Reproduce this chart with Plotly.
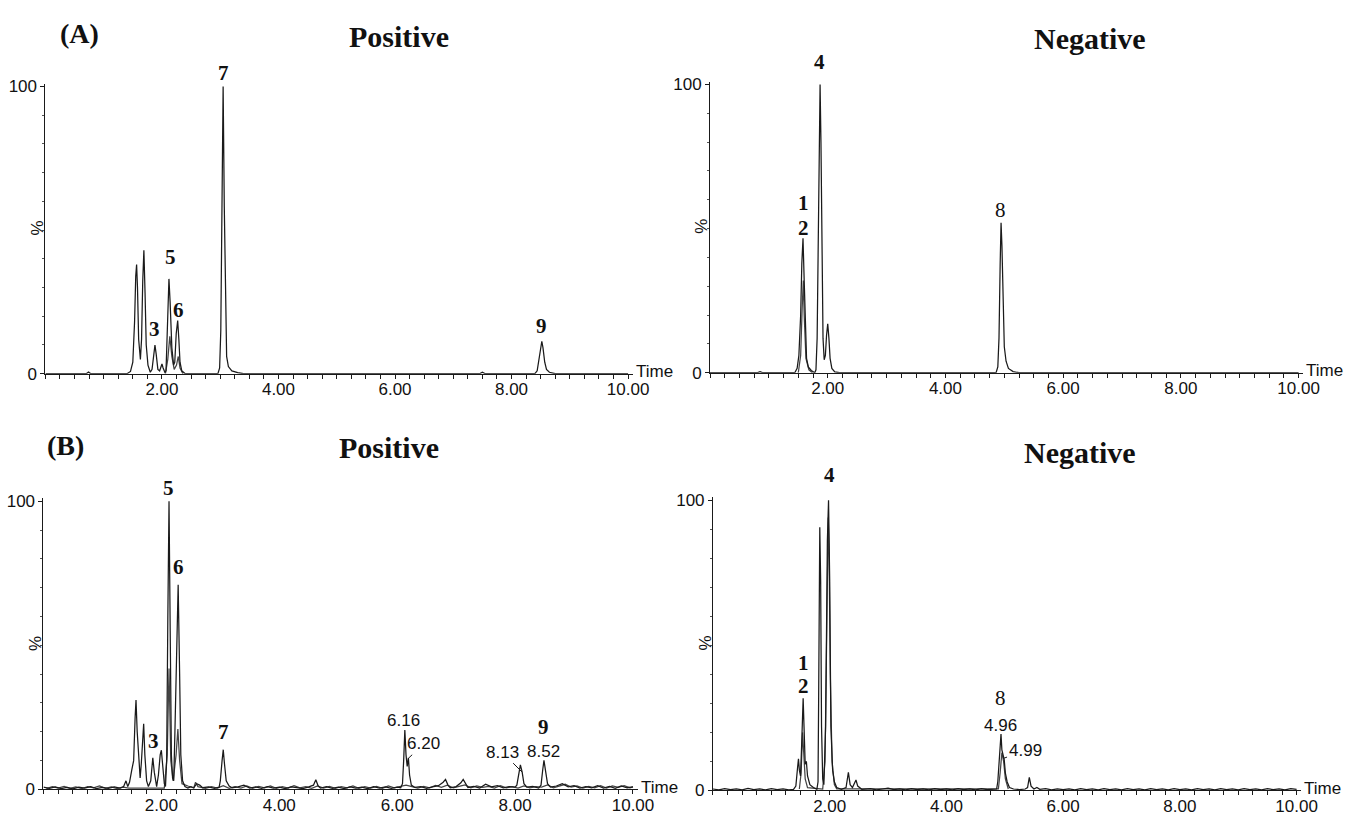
import plotly.graph_objects as go

W, H = 1361, 823

# ---------------- data (time in min, relative intensity in %) ----------------
A_POS_MAIN = [(0.00,0),(0.70,0),(0.74,0.6),(0.78,0),(1.40,0),(1.46,0.8),(1.50,4),(1.53,18),(1.55,34),(1.565,38),
              (1.58,30),(1.60,12),(1.63,5),(1.65,12),(1.67,32),(1.69,43),(1.71,28),(1.73,10),(1.76,3),(1.80,0.5),
              (1.83,1.5),(1.86,7),(1.88,10),(1.90,7),(1.93,1.5),(1.96,1),(1.985,3),(2.00,3.4),(2.02,2),(2.05,0.5),
              (2.07,1),(2.09,12),(2.11,28),(2.12,33),(2.14,25),(2.17,9),(2.20,3),(2.22,4),(2.245,14),(2.27,18.5),
              (2.29,12),(2.31,4),(2.34,1),(2.40,0),(2.96,0),(2.99,2),(3.01,15),(3.03,55),(3.05,100),(3.07,58),
              (3.09,20),(3.11,6),(3.14,2.5),(3.20,1),(3.30,0.4),(3.40,0),(7.45,0),(7.50,0.5),(7.55,0),(8.40,0),
              (8.44,1),(8.47,5),(8.50,10),(8.52,11.3),(8.54,9),(8.57,4),(8.60,1.5),(8.65,0.5),(8.75,0),(10.0,0)]
A_POS_INNER = [(2.06,0),(2.10,5),(2.135,13),(2.17,6),(2.21,1.5),(2.25,3),(2.28,6),(2.31,2),(2.36,0)]

A_NEG_MAIN = [(0.00,0),(0.80,0),(0.85,0.4),(0.90,0),(1.44,0),(1.48,1.5),(1.51,6),(1.54,20),(1.56,38),(1.58,46.6),
              (1.60,32),(1.62,13),(1.64,5),(1.67,2),(1.72,0.8),(1.78,0),(1.80,1),(1.82,12),(1.84,50),(1.86,92),
              (1.87,100),(1.885,80),(1.90,40),(1.92,12),(1.94,4.5),(1.96,6),(1.98,13),(2.00,17),(2.02,12),(2.04,5),
              (2.07,1.5),(2.12,0.3),(2.20,0),(4.86,0),(4.89,2),(4.91,12),(4.93,38),(4.945,52),(4.96,44),(4.98,22),
              (5.00,9),(5.03,4),(5.07,1.5),(5.15,0.4),(5.25,0),(10.0,0)]
A_NEG_INNER = [(1.50,0),(1.54,6),(1.565,22),(1.585,32),(1.60,20),(1.63,5),(1.68,1),(1.74,0)]

B_POS_MAIN = [(0.0,0.8),(0.1,0.4),(0.2,0.9),(0.3,0.3),(0.4,0.7),(0.5,0.2),(0.6,0.8),(0.7,0.5),(0.8,1.0),(0.9,0.3),
              (1.0,0.7),(1.1,0.4),(1.2,0.9),(1.3,0.5),(1.36,1.0),(1.40,3.0),(1.43,1.0),(1.46,2.5),(1.50,7.0),(1.53,10),
              (1.555,25),(1.57,31),(1.59,20),(1.62,8),(1.64,4),(1.66,9),(1.68,18),(1.70,22.8),(1.72,12),(1.75,3),
              (1.78,1),(1.82,3),(1.855,11),(1.88,6),(1.92,1),(1.95,5),(1.98,12),(2.00,13.6),(2.02,9),(2.05,2),
              (2.07,1),(2.09,10),(2.11,60),(2.13,100),(2.15,55),(2.17,12),(2.19,4),(2.21,3),(2.23,20),(2.26,55),
              (2.285,71),(2.31,40),(2.33,12),(2.36,3),(2.40,1),(2.45,0.5),(2.50,1.0),(2.55,0.6),(2.60,2.0),(2.65,1.5),
              (2.70,0.6),(2.80,0.9),(2.90,0.4),(2.98,0.8),(3.00,3),(3.03,10),(3.05,13.8),(3.07,9),(3.10,3),(3.15,1.2),
              (3.20,0.6),(3.30,0.9),(3.40,1.5),(3.50,0.5),(3.60,0.9),(3.70,0.4),(3.80,1.0),(3.90,0.5),(4.00,0.8),(4.10,0.3),
              (4.20,0.9),(4.30,0.6),(4.40,0.3),(4.50,0.9),(4.58,1.5),(4.62,3.4),(4.66,1.2),(4.70,0.5),(4.80,1.0),(4.90,0.4),
              (5.00,0.8),(5.10,0.3),(5.20,0.9),(5.30,0.5),(5.40,0.8),(5.50,0.3),(5.60,1.0),(5.70,0.5),(5.80,0.9),(5.90,0.4),
              (6.00,0.8),(6.06,0.6),(6.09,2),(6.11,10),(6.13,20.6),(6.15,12),(6.17,8),(6.19,11),(6.21,5),(6.24,1.5),
              (6.30,0.7),(6.40,1.0),(6.50,0.4),(6.60,0.9),(6.70,1.3),(6.78,2.5),(6.82,3.5),(6.86,1.6),(6.90,0.6),(7.00,1.0),
              (7.08,2.3),(7.12,3.5),(7.16,2.0),(7.20,0.7),(7.30,1.1),(7.40,0.5),(7.50,1.8),(7.60,0.9),(7.70,1.3),(7.80,0.6),
              (7.90,1.0),(8.00,0.8),(8.03,1.5),(8.06,5),(8.09,8.5),(8.12,6),(8.15,2),(8.20,0.8),(8.30,1.1),(8.40,0.5),
              (8.44,1.5),(8.47,7),(8.49,10.1),(8.52,6),(8.55,2),(8.60,0.8),(8.70,1.2),(8.80,2.0),(8.90,0.9),(9.00,1.3),
              (9.10,0.5),(9.20,1.0),(9.30,0.6),(9.40,1.3),(9.50,0.5),(9.60,1.1),(9.70,0.4),(9.80,1.2),(9.90,0.6),(10.0,0.9)]
B_POS_INNER = [(0.05,0.3),(0.15,1.0),(0.25,0.5),(0.35,1.1),(0.45,0.4),(0.55,0.9),(0.65,0.3),(0.75,1.0),(0.85,0.6),
               (0.95,1.2),(1.05,0.4),(1.15,0.9),(1.25,0.3),(1.35,0.8),(1.45,0.5),(1.60,0.5),(1.80,0.4),(2.05,0.5),
               (2.10,12),(2.13,42),(2.16,10),(2.20,3),(2.25,12),(2.28,21),(2.31,10),(2.35,2),(2.45,1.2),(2.55,0.5),
               (2.58,2.5),(2.62,1.0),(2.75,0.4),(2.85,1.0),(2.95,0.5),(3.05,1.3),(3.15,0.4),(3.25,1.0),(3.35,0.5),
               (3.45,1.2),(3.55,0.4),(3.65,1.1),(3.75,0.6),(3.85,1.2),(3.95,0.4),(4.05,1.0),(4.15,0.5),(4.25,1.3),
               (4.35,0.6),(4.45,1.0),(4.55,0.4),(4.65,1.2),(4.75,0.5),(4.85,1.1),(4.95,0.4),(5.05,1.0),(5.15,0.6),
               (5.25,1.2),(5.35,0.4),(5.45,1.0),(5.55,0.5),(5.65,1.1),(5.75,0.4),(5.85,1.2),(5.95,0.6),(6.05,1.0),
               (6.15,1.5),(6.25,1.0),(6.35,0.5),(6.45,1.1),(6.55,0.6),(6.65,1.4),(6.75,0.7),(6.85,1.5),(6.95,0.6),
               (7.05,1.1),(7.15,1.6),(7.25,0.6),(7.35,1.2),(7.45,0.7),(7.55,1.1),(7.65,0.5),(7.75,1.3),(7.85,0.6),
               (7.95,1.0),(8.05,0.5),(8.15,1.2),(8.25,0.6),(8.35,1.0),(8.45,0.8),(8.55,1.6),(8.65,0.6),(8.75,1.2),
               (8.85,1.8),(8.95,0.8),(9.05,1.2),(9.15,0.5),(9.25,1.1),(9.35,0.6),(9.45,1.3),(9.55,0.5),(9.65,1.2),
               (9.75,0.7),(9.85,1.3),(9.95,0.6),(10.0,0.9)]

B_NEG_MAIN = [(0.0,0.5),(0.1,0.2),(0.2,0.6),(0.3,0.3),(0.4,0.5),(0.5,0.2),(0.6,0.7),(0.7,0.3),(0.8,0.5),(0.9,0.2),
              (1.0,0.6),(1.1,0.3),(1.2,0.5),(1.3,0.2),(1.38,0.4),(1.42,1.5),(1.45,8),(1.465,10.9),(1.48,7),(1.50,5),
              (1.52,16),(1.545,31.8),(1.56,22),(1.58,9),(1.60,10),(1.62,5),(1.66,2),(1.72,1),(1.78,0.4),(1.80,3),
              (1.81,30),(1.82,72),(1.83,90.7),(1.845,72),(1.86,22),(1.88,4),(1.90,2),(1.93,22),(1.96,86),(1.98,100),
              (2.00,72),(2.02,22),(2.05,7),(2.08,3),(2.12,1),(2.20,0.4),(2.28,1),(2.32,6.2),(2.35,2),(2.39,1),
              (2.42,2.5),(2.45,3.6),(2.48,1.5),(2.55,0.4),(2.70,0.6),(2.80,0.2),(2.90,0.5),(3.00,0.8),(3.10,0.3),(3.20,0.5),
              (3.30,0.2),(3.40,0.6),(3.50,0.3),(3.60,0.5),(3.70,0.2),(3.80,0.6),(3.90,0.3),(4.00,0.5),(4.10,0.2),(4.20,0.6),
              (4.30,0.3),(4.40,0.5),(4.50,0.2),(4.60,0.6),(4.70,0.3),(4.80,0.5),(4.86,0.5),(4.88,3),(4.90,10),(4.92,17),
              (4.935,19.4),(4.95,14),(4.97,12),(4.99,10.6),(5.01,6),(5.04,3),(5.08,1),(5.15,0.5),(5.25,0.3),(5.35,0.5),
              (5.39,1),(5.42,4.5),(5.45,1.5),(5.50,0.5),(5.55,1.0),(5.60,0.4),(5.70,0.6),(5.80,0.2),(5.90,0.5),(6.00,0.3),
              (6.10,0.5),(6.20,0.2),(6.30,0.6),(6.40,0.3),(6.50,0.5),(6.60,0.2),(6.70,0.6),(6.80,0.3),(6.90,0.5),(7.00,0.2),
              (7.10,0.6),(7.20,0.3),(7.30,0.5),(7.40,0.2),(7.50,0.6),(7.60,0.3),(7.70,0.5),(7.80,0.2),(7.90,0.6),(8.00,0.3),
              (8.10,0.5),(8.20,0.2),(8.30,0.6),(8.40,0.3),(8.50,0.5),(8.60,0.2),(8.70,0.6),(8.80,0.3),(8.90,0.5),(9.00,0.2),
              (9.10,0.6),(9.20,0.3),(9.30,0.5),(9.40,0.2),(9.50,0.6),(9.60,0.3),(9.70,0.5),(9.80,0.2),(9.90,0.6),(10.0,0.4)]
B_NEG_INNER = [(1.48,0.5),(1.51,6),(1.535,20),(1.55,14),(1.58,4),(1.62,1),(1.88,0.5),(1.92,10),(1.95,60),(1.975,94),
               (1.99,80),(2.01,40),(2.04,10),(2.08,2),(2.12,0.5),(4.89,0.5),(4.92,6),(4.95,13),(4.98,10),(5.01,4),(5.06,0.5)]

X_TICKS = [2, 4, 6, 8, 10]
X_TICK_TEXT = ["2.00", "4.00", "6.00", "8.00", "10.00"]
Y_TICKS = [0, 100]
Y_TICK_TEXT = ["0", "100"]

# peak labels: (text, time, intensity, bold)
A_POS_LABELS = [("7", 3.05, 104.8, True), ("5", 2.15, 40.6, True), ("3", 1.88, 15.4, True),
                ("6", 2.28, 22.2, True), ("9", 8.52, 16.5, True)]
A_NEG_LABELS = [("1", 1.58, 58.8, True), ("2", 1.58, 50.3, True), ("4", 1.86, 107.8, True), ("8", 4.94, 56.6, False)]
B_POS_LABELS = [("5", 2.12, 104.5, True), ("6", 2.29, 77.3, True), ("3", 1.86, 16.9, True),
                ("7", 3.05, 20.0, True), ("9", 8.49, 21.8, True)]
B_NEG_LABELS = [("1", 1.55, 44.0, True), ("2", 1.55, 36.0, True), ("4", 1.99, 108.7, True), ("8", 4.93, 32.0, False)]
# retention-time labels: (text, time, intensity, leader dx, leader dy)  dx/dy None -> no leader
B_POS_RT = [("6.16", 6.10, 24.0, None, None), ("6.20", 6.20, 11.0, 15, -14),
            ("8.13", 8.12, 6.0, -20, -20), ("8.52", 8.49, 13.3, None, None)]
B_NEG_RT = [("4.96", 4.93, 22.5, None, None), ("4.99", 4.97, 11.0, 22, -8)]

# ---------------- layout geometry (pixels) ----------------
XMAX = 10.08
panels = [
    dict(x0=46, ppu=59.0, y0=375, y100=82, main=A_POS_MAIN, inner=A_POS_INNER,
         labels=A_POS_LABELS, rts=[], title="Positive", tpos=(404, 31)),
    dict(x0=719, ppu=59.6, y0=374, y100=80, main=A_NEG_MAIN, inner=A_NEG_INNER,
         labels=A_NEG_LABELS, rts=[], title="Negative", tpos=(1104, 33)),
    dict(x0=44, ppu=59.7, y0=799, y100=505, main=B_POS_MAIN, inner=B_POS_INNER,
         labels=B_POS_LABELS, rts=B_POS_RT, title="Positive", tpos=(394, 450)),
    dict(x0=722, ppu=59.1, y0=800, y100=504, main=B_NEG_MAIN, inner=B_NEG_INNER,
         labels=B_NEG_LABELS, rts=B_NEG_RT, title="Negative", tpos=(1094, 455)),
]

SANS = "Liberation Sans, Arial, sans-serif"
SERIF = "Liberation Serif, Times New Roman, serif"
LINE = "#1a1a1a"

fig = go.Figure()
annotations = []
layout = {}

for i, p in enumerate(panels, start=1):
    xs = "" if i == 1 else str(i)
    xname, yname = "x" + xs, "y" + xs
    x_right = p["x0"] + p["ppu"] * XMAX
    yppu = (p["y0"] - p["y100"]) / 100.0
    y_top = p["y0"] - yppu * 101
    layout["xaxis" + xs] = dict(
        domain=[p["x0"] / W, x_right / W], range=[0, XMAX], anchor=yname,
        showline=True, linecolor=LINE, linewidth=1, showgrid=False, zeroline=False,
        ticks="", tickmode="array", tickvals=X_TICKS, ticktext=X_TICK_TEXT,
        tickfont=dict(family=SANS, size=17, color="#111"),
        minor=dict(tickmode="linear", tick0=0, dtick=0.25, ticks="outside", ticklen=4,
                   tickcolor=LINE, showgrid=False),
        fixedrange=True)
    layout["yaxis" + xs] = dict(
        domain=[1 - p["y0"] / H, 1 - y_top / H], range=[0, 101], anchor=xname,
        showline=True, linecolor=LINE, linewidth=1, showgrid=False, zeroline=False,
        ticks="outside", ticklen=4, tickwidth=1, tickcolor=LINE,
        tickmode="array", tickvals=Y_TICKS, ticktext=Y_TICK_TEXT,
        tickfont=dict(family=SANS, size=17, color="#111"),
        minor=dict(tickmode="linear", tick0=0, dtick=10, ticks="outside", ticklen=2,
                   tickcolor="#555", showgrid=False),
        fixedrange=True)

    for data, col in ((p["inner"], "#444444"), (p["main"], LINE)):
        fig.add_trace(go.Scatter(x=[d[0] for d in data], y=[d[1] for d in data],
                                 mode="lines", line=dict(color=col, width=1.25),
                                 xaxis=xname, yaxis=yname, showlegend=False, hoverinfo="skip"))

    # helpers mapping data values to paper coordinates (labels may sit above the 100 % line)
    def px_t(t, p=p):
        return (p["x0"] + p["ppu"] * t) / W

    def py_v(v, p=p, yppu=yppu):
        return 1 - (p["y0"] - yppu * v) / H

    for txt, t, v, bold in p["labels"]:
        annotations.append(dict(x=px_t(t), y=py_v(v), xref="paper", yref="paper",
                                text=f"<b>{txt}</b>" if bold else txt,
                                showarrow=False, font=dict(family=SERIF, size=21, color="#111"),
                                xanchor="center", yanchor="middle"))
    for txt, t, v, dx, dy in p["rts"]:
        if dx is None:
            annotations.append(dict(x=t, y=v, xref=xname, yref=yname, text=txt, showarrow=False,
                                    font=dict(family=SANS, size=17, color="#111"),
                                    xanchor="center", yanchor="middle"))
        else:
            annotations.append(dict(x=t, y=v, xref=xname, yref=yname, text=txt, showarrow=True,
                                    arrowhead=0, arrowwidth=1, arrowcolor=LINE, ax=dx, ay=dy,
                                    font=dict(family=SANS, size=17, color="#111")))
    # panel title
    annotations.append(dict(x=p["tpos"][0] / W, y=1 - p["tpos"][1] / H, xref="paper", yref="paper",
                            text=f"<b>{p['title']}</b>", showarrow=False,
                            font=dict(family=SERIF, size=30, color="#111"),
                            xanchor="center", yanchor="middle"))
    # "Time" at the end of the x axis
    annotations.append(dict(x=(x_right + 1) / W, y=1 - (p["y0"] - 2) / H, xref="paper", yref="paper",
                            text="Time", showarrow=False, font=dict(family=SANS, size=17, color="#111"),
                            xanchor="left", yanchor="middle"))
    # "%" axis label
    annotations.append(dict(x=(p["x0"] - 8) / W, y=1 - ((p["y0"] + p["y100"]) / 2 - 2) / H,
                            xref="paper", yref="paper", text="%", textangle=-90, showarrow=False,
                            font=dict(family=SANS, size=17, color="#111"),
                            xanchor="center", yanchor="middle"))

# panel letters
for txt, (px, py) in (("(A)", (80, 28)), ("(B)", (66, 448))):
    annotations.append(dict(x=px / W, y=1 - py / H, xref="paper", yref="paper", text=f"<b>{txt}</b>",
                            showarrow=False, font=dict(family=SERIF, size=28, color="#111"),
                            xanchor="center", yanchor="middle"))

fig.update_layout(width=W, height=H, margin=dict(l=0, r=0, t=0, b=0), autosize=False,
                  paper_bgcolor="white", plot_bgcolor="white", showlegend=False,
                  annotations=annotations, **layout)

fig.write_html("out.html", config={"displayModeBar": False},
               post_script="document.body.style.margin='0';document.body.style.overflow='hidden';")
